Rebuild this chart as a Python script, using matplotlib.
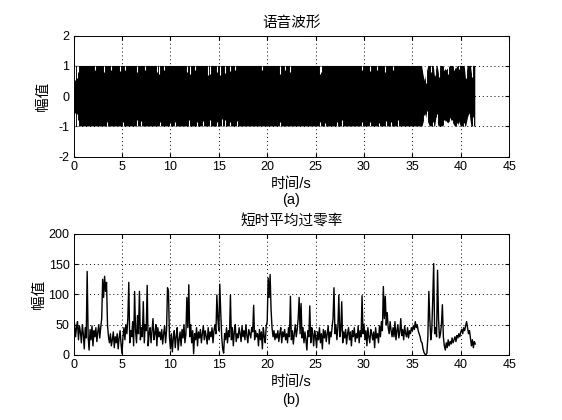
import numpy as np
import matplotlib
matplotlib.use("Agg")
import matplotlib.pyplot as plt

plt.rcParams['font.family'] = ['Liberation Sans', 'Noto Sans CJK SC']
plt.rcParams['axes.unicode_minus'] = False

# ---- speech waveform envelope ----
hi_t = [0.0, 36.0, 36.15, 36.3, 36.45, 36.65, 37.2, 37.35, 37.5, 37.6, 37.75, 37.9,
        38.2, 38.5, 38.9, 39.2, 39.5, 39.7, 40.0, 40.4, 40.55, 40.7, 41.05, 41.15,
        41.25, 41.5]
hi_v = [1.0, 1.0, 0.7, 0.5, 0.75, 1.0, 1.0, 0.62, 1.0, 1.0, 0.74, 1.0,
        1.0, 0.85, 1.0, 1.0, 0.9, 1.0, 1.0, 1.0, 0.55, 1.0, 1.0, 0.75,
        1.0, 1.0]
lo_t = [0.0, 36.05, 36.25, 36.4, 36.55, 36.8, 37.35, 37.5, 37.7, 38.2, 38.45, 38.7,
        39.0, 39.4, 39.7, 39.85, 40.0, 40.55, 40.75, 40.9, 41.1, 41.5]
lo_v = [-1.0, -1.0, -0.75, -0.57, -0.8, -1.0, -1.0, -0.67, -1.0, -1.0, -0.8, -0.9,
        -0.78, -1.0, -1.0, -0.85, -1.0, -1.0, -0.7, -0.57, -1.0, -1.0]

# thin white gaps at the clipped edges
top_cut_t = [0.15, 0.3, 0.5, 2.2, 3.1, 3.9, 4.8, 5.3, 6.5, 7.4, 8.6, 8.8, 9.3, 11.7,
             12.0, 12.5, 13.9, 14.1, 14.8, 15.1, 15.6, 16.2, 16.7, 19.5, 21.3, 21.8,
             22.4, 25.5, 25.6, 29.8, 30.6, 31.3, 32.2, 33.0,
             36.2, 36.45, 36.9, 37.3, 37.8, 38.3, 38.65, 39.3, 39.8, 40.5, 41.2]
top_cut_v = [0.55, 0.6, 0.8, 0.88, 0.8, 0.85, 0.82, 0.85, 0.8, 0.85, 0.8, 0.75, 0.85,
             0.8, 0.75, 0.85, 0.7, 0.75, 0.8, 0.7, 0.78, 0.82, 0.85, 0.85, 0.75, 0.85,
             0.8, 0.75, 0.8, 0.85, 0.82, 0.85, 0.8, 0.85,
             0.6, 0.45, 0.8, 0.7, 0.65, 0.85, 0.75, 0.88, 0.9, 0.6, 0.65]
bot_cut_t = [0.15, 0.3, 0.5, 3.4, 5.1, 6.5, 7.0, 8.9, 10.0, 10.5, 11.9, 12.7, 13.4,
             14.1, 14.8, 15.3, 15.6, 16.2, 16.9, 21.3, 25.5, 26.0, 27.2, 27.7, 29.8,
             30.6, 31.6, 32.3, 32.8, 33.5,
             36.2, 36.5, 37.1, 37.55, 38.3, 38.9, 39.1, 39.6, 40.3, 40.8, 41.3]
bot_cut_v = [-0.55, -0.6, -0.8, -0.85, -0.85, -0.8, -0.82, -0.85, -0.88, -0.85, -0.8,
             -0.85, -0.82, -0.8, -0.85, -0.75, -0.8, -0.85, -0.82, -0.85, -0.85, -0.88,
             -0.85, -0.8, -0.85, -0.85, -0.88, -0.82, -0.85, -0.8,
             -0.62, -0.5, -0.85, -0.6, -0.8, -0.72, -0.8, -0.9, -0.88, -0.6, -0.7]

# ---- short-time average zero crossing rate, one value per 0.1 s frame ----
frame_step = 0.1
zcr = [
    40, 52, 30, 45, 55, 25, 48, 38, 20, 50,
    35, 10, 45, 28, 138, 30, 8, 42, 25, 48,
    15, 40, 30, 45, 22, 38, 50, 28, 45, 60,
    125, 95, 130, 105, 120, 50, 30, 20, 35, 15,
    25, 38, 12, 30, 20, 35, 10, 28, 40, 18,
    2, 30, 45, 25, 50, 35, 60, 120, 20, 40,
    30, 55, 15, 105, 40, 20, 65, 35, 105, 25,
    45, 30, 88, 20, 50, 40, 115, 15, 35, 45,
    20, 40, 60, 25, 35, 50, 15, 45, 30, 38,
    25, 42, 18, 35, 48, 20, 40, 111, 105, 30,
    10, 35, 5, 28, 40, 12, 30, 45, 8, 25,
    38, 15, 42, 28, 50, 20, 35, 95, 45, 116,
    30, 50, 20, 40, 2, 35, 25, 45, 15, 38,
    28, 42, 20, 35, 48, 25, 40, 30, 18, 45,
    25, 38, 30, 45, 20, 40, 50, 35, 99, 60,
    40, 117, 70, 30, 10, 3, 35, 25, 45, 20,
    40, 30, 99, 25, 45, 15, 38, 50, 22, 35,
    28, 45, 35, 22, 48, 30, 40, 25, 50, 32,
    20, 42, 35, 28, 45, 38, 82, 25, 40, 30,
    35, 15, 42, 25, 38, 10, 45, 30, 20, 48,
    55, 127, 95, 133, 75, 45, 30, 40, 25, 35,
    28, 40, 22, 35, 45, 20, 38, 30, 42, 25,
    35, 20, 45, 30, 97, 25, 40, 18, 35, 50,
    30, 42, 60, 95, 35, 85, 28, 45, 20, 38,
    25, 8, 40, 30, 81, 20, 45, 35, 15, 40,
    30, 12, 38, 25, 45, 20, 35, 10, 42, 28,
    40, 22, 35, 48, 18, 38, 30, 45, 60, 111,
    35, 50, 25, 45, 99, 30, 40, 88, 20, 38,
    28, 42, 18, 35, 45, 25, 38, 15, 40, 30,
    45, 22, 35, 28, 48, 20, 40, 30, 98, 35,
    50, 25, 40, 15, 45, 30, 20, 42, 35, 25,
    38, 12, 45, 28, 35, 20, 48, 30, 55, 40,
    113, 60, 97, 50, 70, 45, 35, 55, 40, 30,
    45, 30, 55, 25, 40, 50, 28, 38, 60, 32,
    42, 25, 48, 35, 30, 45, 28, 40, 35, 45,
    40, 48, 42, 55, 45, 50, 40, 35, 30, 22,
    20, 10, 4, 1, 0, 3, 30, 105, 60, 25,
    40, 90, 151, 35, 45, 30, 140, 60, 28, 35,
    50, 83, 30, 15, 8, 20, 12, 25, 15, 22,
    18, 28, 20, 25, 30, 22, 32, 28, 35, 30,
    38, 42, 35, 45, 40, 48, 55, 45, 35, 40,
    28, 15, 25, 12, 22, 18,
]
t_zcr = np.arange(len(zcr)) * frame_step

xticks = [0, 5, 10, 15, 20, 25, 30, 35, 40, 45]


def matlab_axes(ax):
    ax.set_axisbelow(True)
    ax.grid(True, color='black', linestyle=(0, (1, 3)), linewidth=0.7)
    ax.tick_params(direction='in', top=True, right=True, length=3, labelsize=9,
                   pad=3)
    for s in ax.spines.values():
        s.set_linewidth(0.7)


fig = plt.figure(figsize=(5.62, 4.2), dpi=100)

ax1 = fig.add_axes([0.131, 0.627, 0.775, 0.288])
px = np.concatenate([hi_t, lo_t[::-1]])
py = np.concatenate([hi_v, lo_v[::-1]])
ax1.fill(px, py, color='black', linewidth=0, zorder=2)
ax1.vlines(top_cut_t, top_cut_v, 1.0, colors='white', linewidth=0.8, zorder=3)
ax1.vlines(bot_cut_t, -1.0, bot_cut_v, colors='white', linewidth=0.8, zorder=3)
ax1.set_xlim(0, 45)
ax1.set_ylim(-2, 2)
ax1.set_xticks(xticks)
ax1.set_yticks([-2, -1, 0, 1, 2])
matlab_axes(ax1)
ax1.set_title('语音波形', fontsize=10.5, pad=6)
ax1.set_ylabel('幅值', fontsize=10.5, labelpad=6)
ax1.set_xlabel('时间/s\n(a)', fontsize=10.5, labelpad=3, linespacing=1.15)

ax2 = fig.add_axes([0.131, 0.155, 0.775, 0.288])
ax2.plot(t_zcr, zcr, color='black', linewidth=1.0)
ax2.set_xlim(0, 45)
ax2.set_ylim(0, 200)
ax2.set_xticks(xticks)
ax2.set_yticks([0, 50, 100, 150, 200])
matlab_axes(ax2)
ax2.set_title('短时平均过零率', fontsize=10.5, pad=6)
ax2.set_ylabel('幅值', fontsize=10.5, labelpad=2)
ax2.set_xlabel('时间/s\n(b)', fontsize=10.5, labelpad=3, linespacing=1.3)

fig.savefig('out.png', dpi=100)
